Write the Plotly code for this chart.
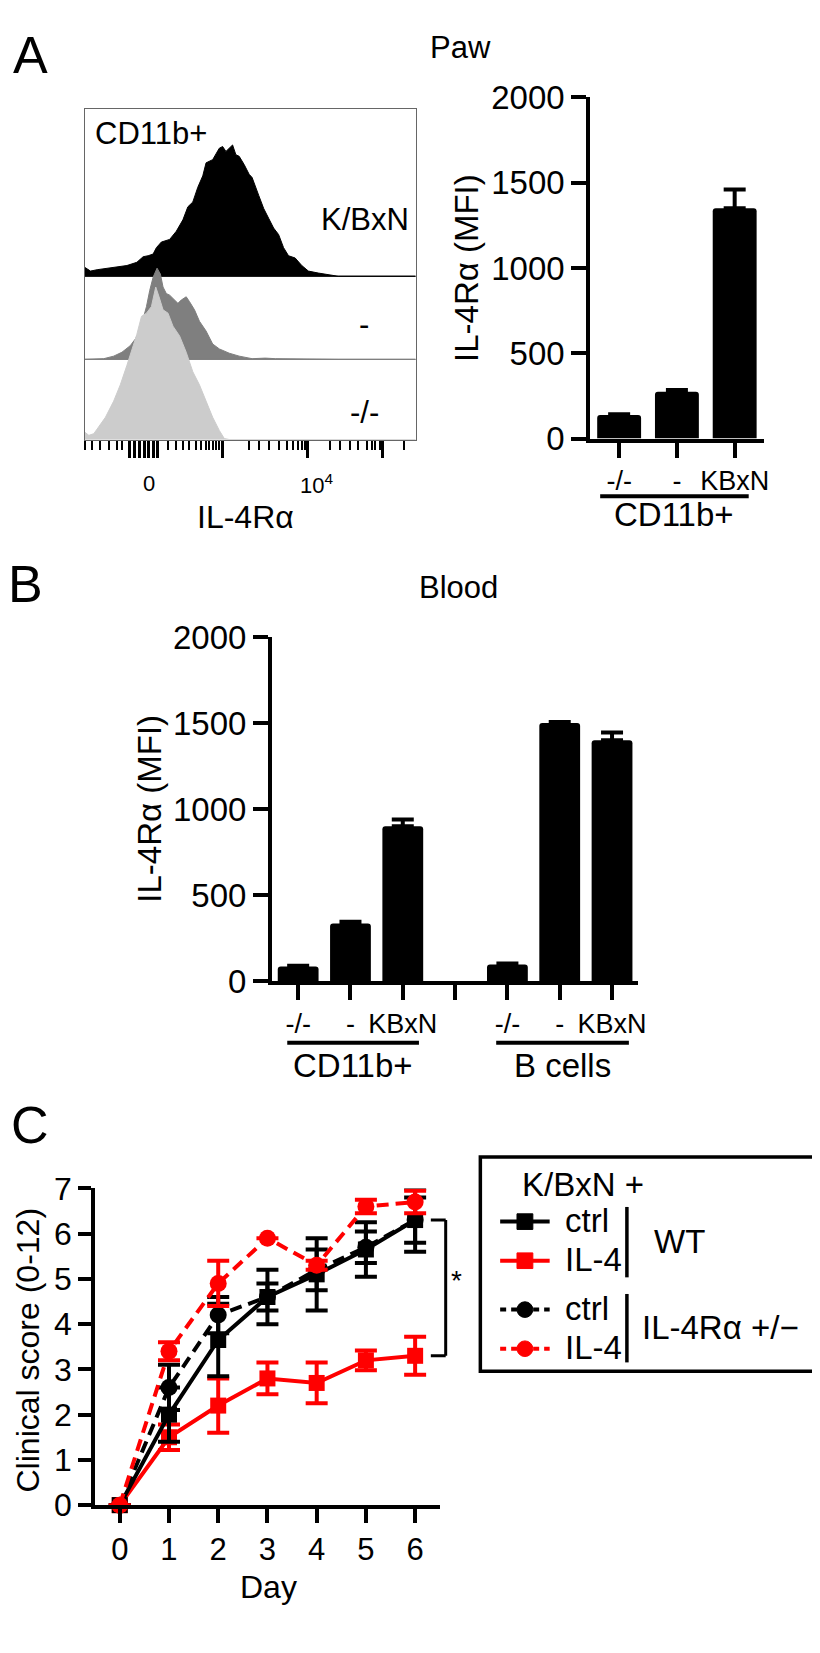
import plotly.graph_objects as go

W, H = 820, 1653
FONT = "Liberation Sans, Arial, Helvetica, sans-serif"
RED = "#FF0000"

# ---------------- DATA ----------------
# Panel A: flow histograms (display channel 0-1000, relative height)
kbxn_ch = [0, 18, 38, 68, 98, 128, 158, 177, 192, 207, 217, 232, 257, 277, 297, 312, 327, 342, 357, 367,
           387, 407, 417, 427, 447, 457, 467, 482, 497, 506, 526, 541, 556, 571, 586, 601, 616, 636, 656, 676,
           706, 736, 766, 1000]
kbxn_h = [9.3, 5.3, 6.7, 8.3, 9.3, 11, 14.3, 20, 21, 22.7, 29.3, 35, 37.7, 46, 57.7, 71, 76, 91, 102.7, 116,
          119.3, 131, 132.7, 127.7, 134.3, 124.3, 122.7, 114.3, 104.3, 101, 82.7, 69.3, 59.3, 49.3, 42.7, 29.3, 21, 18.7, 11, 5.3,
          3.3, 1.7, 0, 0]
minus_ch = [0, 58, 88, 113, 138, 153, 167, 177, 187, 197, 207, 219, 229, 237, 247, 257, 267, 282, 292, 307,
            317, 332, 347, 367, 387, 407, 437, 467, 506, 546, 576, 666, 736, 766, 1000]
minus_h = [0, 0.7, 3.3, 7.3, 14, 20.7, 29, 40.7, 54, 70.7, 84, 93.3, 87.3, 74, 67.3, 65.7, 62.3, 57.3, 60.7, 64,
           59, 50.7, 39, 29, 15.7, 10.7, 6.3, 3.3, 0.7, 1.3, 0.7, 0.3, 0.7, 0, 0]
ko_ch = [0, 13, 28, 43, 63, 88, 108, 128, 143, 158, 172, 187, 202, 215, 225, 237, 252, 267, 287, 307,
         327, 347, 367, 387, 407, 422, 437, 1000]
ko_h = [7.7, 4.3, 6, 12.7, 22.7, 39.3, 56, 76, 92.7, 107.7, 126, 129.3, 136, 156, 146, 132.7, 129.3, 116, 106, 89.3,
        69.3, 56, 39.3, 22.7, 9.3, 1, 0, 0]
hist_major_ticks = [137, 152, 167, 182, 194, 209, 221, 418, 672, 899]
hist_minor_ticks = [2, 23, 47, 74, 98, 113, 253, 277, 298, 316, 337, 352, 367, 376, 388, 397, 406,
                    496, 526, 556, 586, 612, 630, 645, 657, 666, 741, 771, 801, 825, 852, 867, 876, 891, 965]
hist_labels = [("0", 194), ("10<sup>4</sup>", 699)]

# Panel A: Paw MFI
paw_cats = ["-/-", "-", "KBxN"]
paw_mfi = [138, 275, 1350]
paw_err = [5, 10, 110]

# Panel B: Blood MFI (empty slot separates the groups)
blood_cats = ["-/-", "-", "KBxN", "", "-/-", "-", "KBxN"]
blood_mfi = [85, 335, 900, None, 97, 1500, 1400]
blood_err = [4, 10, 40, 0, 6, 6, 45]

# Panel C: clinical score
days = [0, 1, 2, 3, 4, 5, 6]
wt_ctrl = [0, 2.0, 3.65, 4.6, 5.1, 5.65, 6.3]
wt_ctrl_err = [0, 0.6, 0.8, 0.6, 0.8, 0.6, 0.7]
het_ctrl = [0, 2.6, 4.2, 4.6, 5.2, 5.7, 6.3]
het_ctrl_err = [0, 0.5, 0.4, 0.3, 0.45, 0.35, 0.5]
wt_il4 = [0, 1.5, 2.2, 2.8, 2.7, 3.2, 3.3]
wt_il4_err = [0, 0.28, 0.6, 0.35, 0.45, 0.22, 0.42]
het_il4 = [0, 3.4, 4.9, 5.9, 5.3, 6.6, 6.7]
het_il4_err = [0, 0.2, 0.5, 0, 0.1, 0.15, 0.25]


def px(x):
    return x / W


def py(y):
    return 1 - y / H


fig = go.Figure()

# ---- Panel A histogram ----
lanes = [(kbxn_ch, kbxn_h, 167, "#000000"), (minus_ch, minus_h, 82, "#7f7f7f"), (ko_ch, ko_h, 0, "#cccccc")]
for ch, hh, base, col in lanes:
    if base > 0:
        fig.add_trace(go.Scatter(x=[0, 1000], y=[base, base], mode="lines",
                                 line=dict(color="#8a8a8a", width=1), xaxis="x", yaxis="y",
                                 hoverinfo="skip", showlegend=False))
    fig.add_trace(go.Scatter(x=ch + [ch[-1], ch[0]], y=[base + v for v in hh] + [base, base],
                             mode="lines", fill="toself", fillcolor=col, line=dict(color=col, width=1),
                             xaxis="x", yaxis="y", hoverinfo="skip", showlegend=False))

# ---- Paw bars ----
fig.add_trace(go.Bar(x=list(range(len(paw_cats))), y=paw_mfi, width=0.76,
                     marker=dict(color="black", line=dict(width=0), cornerradius=3),
                     error_y=dict(type="data", array=paw_err, arrayminus=[0] * len(paw_err), symmetric=False,
                                  color="black", thickness=4, width=11),
                     xaxis="x2", yaxis="y2", showlegend=False))

# ---- Blood bars ----
fig.add_trace(go.Bar(x=list(range(len(blood_cats))), y=blood_mfi, width=0.78,
                     marker=dict(color="black", line=dict(width=0), cornerradius=3),
                     error_y=dict(type="data", array=blood_err, arrayminus=[0] * len(blood_err), symmetric=False,
                                  color="black", thickness=4, width=11),
                     xaxis="x3", yaxis="y3", showlegend=False))
blood_label_pos = [i for i, c in enumerate(blood_cats) if c]
blood_gap_pos = [i for i, c in enumerate(blood_cats) if not c]

# ---- Panel C lines ----
series = [
    (wt_il4, wt_il4_err, RED, "solid", "square", 16),
    (het_ctrl, het_ctrl_err, "black", "12px,7px", "circle", 17),
    (wt_ctrl, wt_ctrl_err, "black", "solid", "square", 16),
    (het_il4, het_il4_err, RED, "12px,7px", "circle", 17),
]
for ys, es, col, dash, sym, size in series:
    fig.add_trace(go.Scatter(x=days, y=ys, mode="lines+markers",
                             line=dict(color=col, width=4, dash=dash),
                             marker=dict(color=col, symbol=sym, size=size),
                             error_y=dict(type="data", array=es, color=col, thickness=4, width=11),
                             cliponaxis=False, xaxis="x4", yaxis="y4", showlegend=False))

bar_axis = dict(showline=True, linecolor="black", linewidth=4, ticks="outside", ticklen=15, tickwidth=4,
                tickcolor="black", showgrid=False, zeroline=False)

fig.update_layout(
    width=W, height=H, margin=dict(l=0, r=0, t=0, b=0),
    paper_bgcolor="white", plot_bgcolor="white", showlegend=False,
    font=dict(family=FONT, color="black"),
    xaxis=dict(domain=[px(77.3), px(411.7)], range=[0, 1000], anchor="y",
               showline=True, mirror=True, linecolor="#666666", linewidth=1.2,
               ticks="outside", tickmode="array", tickvals=hist_major_ticks, showticklabels=False,
               ticklen=17, tickwidth=3, tickcolor="black",
               minor=dict(ticks="outside", tickmode="array", tickvals=hist_minor_ticks, ticklen=9,
                          tickwidth=1.5, tickcolor="black", showgrid=False),
               showgrid=False, zeroline=False),
    yaxis=dict(domain=[py(423), py(85)], range=[0, 338], anchor="x",
               showline=True, mirror=True, linecolor="#666666", linewidth=1.2,
               showticklabels=False, ticks="", showgrid=False, zeroline=False),
    xaxis2=dict(domain=[px(588), px(763)], range=[-0.5, 2.5], anchor="y2",
                tickmode="array", tickvals=list(range(len(paw_cats))), ticktext=paw_cats,
                tickfont=dict(size=27), **bar_axis),
    yaxis2=dict(domain=[py(422), py(73)], range=[0, 2000], anchor="x2",
                tickmode="array", tickvals=[0, 500, 1000, 1500, 2000], tickfont=dict(size=33), **bar_axis),
    xaxis3=dict(domain=[px(266.6), px(636.4)], range=[-0.5, 6.5], anchor="y3",
                tickmode="array", tickvals=blood_label_pos, ticktext=[blood_cats[i] for i in blood_label_pos],
                tickfont=dict(size=27),
                minor=dict(ticks="outside", tickmode="array", tickvals=blood_gap_pos, ticklen=15,
                           tickwidth=4, tickcolor="black", showgrid=False),
                **bar_axis),
    yaxis3=dict(domain=[py(977), py(625)], range=[0, 2000], anchor="x3",
                tickmode="array", tickvals=[0, 500, 1000, 1500, 2000], tickfont=dict(size=33), **bar_axis),
    xaxis4=dict(domain=[px(88), px(436)], range=[-0.5, 6.5], anchor="y4",
                tickmode="array", tickvals=days, tickfont=dict(size=31),
                showline=True, linecolor="black", linewidth=4, ticks="outside", ticklen=14, tickwidth=4,
                tickcolor="black", showgrid=False, zeroline=False),
    yaxis4=dict(domain=[py(1513), py(1189)], range=[0, 7], anchor="x4",
                tickmode="array", tickvals=list(range(8)), tickfont=dict(size=32),
                showline=True, linecolor="black", linewidth=4, ticks="outside", ticklen=13, tickwidth=4,
                tickcolor="black", showgrid=False, zeroline=False),
)

shapes = []
# underlines under bar groups
for x0, x1, y in [(598, 748, 481), (282, 415, 1040), (493, 627, 1040)]:
    shapes.append(dict(type="line", xref="paper", yref="paper", x0=px(x0), x1=px(x1), y0=py(y), y1=py(y),
                       line=dict(color="black", width=4)))
# significance bracket (panel C) - x in paper so it is not clipped, y from the data
bx, btick = px(442), px(427)
shapes.append(dict(type="line", xref="paper", yref="y4", x0=bx, x1=bx, y0=wt_il4[-1], y1=wt_ctrl[-1],
                   line=dict(color="black", width=3)))
for yv in (wt_il4[-1], wt_ctrl[-1]):
    shapes.append(dict(type="line", xref="paper", yref="y4", x0=btick, x1=bx, y0=yv, y1=yv,
                       line=dict(color="black", width=3)))
# legend box
shapes.append(dict(type="rect", xref="paper", yref="paper", x0=px(477), x1=px(817), y0=py(1376), y1=py(1157),
                   line=dict(color="black", width=3.5), fillcolor="rgba(0,0,0,0)"))
legend_rows = [(1223, "black", "solid", "square"), (1263, RED, "solid", "square"),
               (1313, "black", "6px,5px", "circle"), (1353, RED, "6px,5px", "circle")]
for y, col, dash, sym in legend_rows:
    shapes.append(dict(type="line", xref="paper", yref="paper", x0=px(497), x1=px(547), y0=py(y), y1=py(y),
                       line=dict(color=col, width=4, dash=dash)))
    shapes.append(dict(type="rect" if sym == "square" else "circle", xref="paper", yref="paper",
                       x0=px(514), x1=px(530), y0=py(y + 8), y1=py(y - 8),
                       line=dict(color=col, width=1), fillcolor=col))
for y0, y1 in [(1208, 1280), (1297, 1367)]:
    shapes.append(dict(type="line", xref="paper", yref="paper", x0=px(625), x1=px(625), y0=py(y0), y1=py(y1),
                       line=dict(color="black", width=3.5)))
fig.update_layout(shapes=shapes)


def ann(text, x, y, size, xanchor="center", angle=0):
    return dict(text=text, x=px(x), y=py(y), xref="paper", yref="paper", xanchor=xanchor, yanchor="middle",
                showarrow=False, textangle=angle, font=dict(size=size, family=FONT, color="black"))


annotations = [
    ann("A", 23, 30, 52), ann("B", 18, 571, 52), ann("C", 22, 1124, 52),
    ann("Paw", 457, 22, 31), ann("Blood", 455, 574, 31),
    ann("CD11b+", 144, 110, 31), ann("K/BxN", 361, 198, 31), ann("-", 360, 305, 31), ann("-/-", 360, 395, 31),
    ann("IL-4Rα", 240, 502, 32),
    ann("IL-4Rα (MFI)", 463, 247, 33, angle=-90), ann("CD11b+", 673, 500, 33),
    ann("IL-4Rα (MFI)", 142, 801, 33, angle=-90),
    ann("CD11b+", 348, 1063, 33), ann("B cells", 560, 1063, 33),
    ann("Clinical score (0-12)", 20, 1354, 32, angle=-90), ann("Day", 263, 1597, 32),
    ann("*", 453, 1283, 28),
    ann("K/BxN +", 517, 1185, 33, xanchor="left"),
    ann("ctrl", 560, 1222, 33, xanchor="left"), ann("IL-4", 560, 1262, 33, xanchor="left"),
    ann("ctrl", 560, 1312, 33, xanchor="left"), ann("IL-4", 560, 1352, 33, xanchor="left"),
    ann("WT", 650, 1243, 33, xanchor="left"), ann("IL-4Rα +/−", 638, 1331, 33, xanchor="left"),
]
# histogram axis tick labels, placed at their channel positions
for txt, ch in hist_labels:
    annotations.append(dict(text=txt, x=ch, y=py(468), xref="x", yref="paper", xanchor="center",
                            yanchor="middle", showarrow=False, font=dict(size=22, family=FONT, color="black")))
fig.update_layout(annotations=annotations)

fig.write_html("out.html")
